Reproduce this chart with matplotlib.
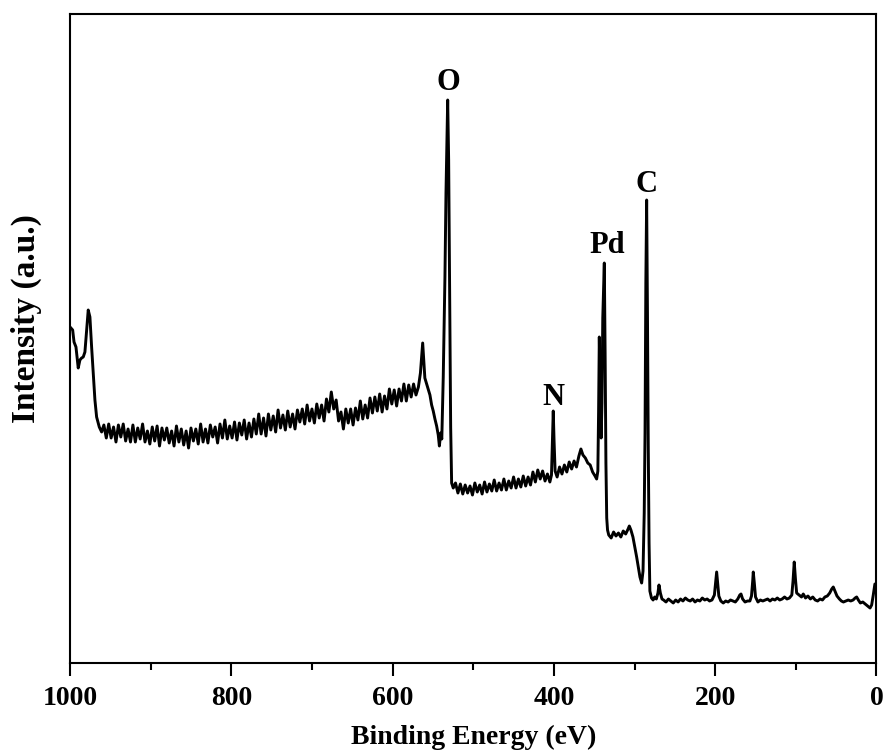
import matplotlib

matplotlib.use("Agg")
import matplotlib.pyplot as plt
import numpy as np
from matplotlib.ticker import MultipleLocator

# XPS survey spectrum (intensity in a.u.)

# high binding-energy edge with the ~978 eV feature
edge_energy = [1000, 996.7, 995, 992.6, 989.8, 987.7, 985.6, 983.6, 981.5,
               979.4, 977.4, 975.3, 973.2, 971.2, 969.1, 967, 963.7, 960.8]
edge_intensity = [336, 333, 321, 316, 295, 303, 305, 306, 311,
                  333, 353, 346, 316, 290, 263, 246, 236, 231]

# noisy background 958 -> 574 eV
bg_energy = [958, 955, 952, 949, 946, 943, 940, 937, 934, 931, 928, 925, 922,
             919, 916, 913, 910, 907, 904, 901, 898, 895, 892, 889, 886, 883,
             880, 877, 874, 871, 868, 865, 862, 859, 856, 853, 850, 847, 844,
             841, 838, 835, 832, 829, 826, 823, 820, 817, 814, 811, 808, 805,
             802, 799, 796, 793, 790, 787, 784, 781, 778, 775, 772, 769, 766,
             763, 760, 757, 754, 751, 748, 745, 742, 739, 736, 733, 730, 727,
             724, 721, 718, 715, 712, 709, 706, 703, 700, 697, 694, 691, 688,
             685, 682, 679, 676, 673, 670, 667, 664, 661, 658, 655, 652, 649,
             646, 643, 640, 637, 634, 631, 628, 625, 622, 619, 616, 613, 610,
             607, 604, 601, 598, 595, 592, 589, 586, 583, 580, 577, 574]
bg_intensity = [238, 225, 239, 225, 236, 221, 238, 226, 239, 222,
                234, 221, 238, 221, 235, 224, 239, 221, 232, 219,
                236, 222, 237, 217, 235, 223, 235, 220, 232, 217,
                237, 221, 234, 218, 232, 215, 235, 222, 234, 219,
                239, 221, 234, 220, 238, 226, 236, 220, 239, 225,
                243, 224, 237, 225, 241, 223, 240, 228, 243, 224,
                240, 226, 244, 229, 249, 229, 245, 227, 249, 233,
                247, 231, 253, 235, 248, 233, 252, 236, 249, 234,
                253, 241, 254, 239, 258, 242, 254, 240, 259, 245,
                258, 242, 264, 251, 271, 254, 263, 242, 251, 234,
                254, 240, 254, 238, 255, 243, 262, 244, 258, 245,
                265, 250, 266, 252, 269, 251, 267, 254, 274, 259,
                273, 257, 274, 262, 279, 262, 278, 266, 279]

# O KLL and O 1s
o_energy = [571, 568, 565.5, 562.7, 560, 557.8, 556, 553.7, 551.6, 549.6,
            547.5, 545.4, 543.4, 542, 540.4, 539, 537.2, 535.1, 533.8, 531.7,
            530.5, 529.2, 528, 526.8, 524.8]
o_intensity = [268, 276, 290, 320, 285, 279, 274, 268, 258, 252,
               244, 237, 228, 217, 230, 224, 286, 386, 470, 563,
               503, 370, 236, 180, 175]

# background after O 1s, N 1s
mid_energy = [522, 519, 516, 513, 510, 507, 504, 501, 498, 495, 492, 489, 486,
              483, 480, 477, 474, 471, 468, 465, 462, 459, 456, 453, 450, 447,
              444, 441, 438, 435, 432, 429, 426, 423, 420, 417, 414, 411, 408,
              405, 403, 401.8, 400.8, 399.8, 398.5, 396, 393, 390, 387, 384,
              381, 378, 375, 372, 369, 366.5, 364, 361, 358, 355, 352, 349, 347]
mid_intensity = [180, 170, 179, 169, 178, 170, 177, 168, 180, 171, 178, 169, 181,
                 171, 179, 172, 183, 172, 180, 173, 184, 173, 182, 175, 186, 175,
                 184, 176, 187, 177, 186, 178, 191, 181, 193, 184, 192, 182, 189,
                 181, 188, 225, 252, 222, 192, 186, 196, 189, 198, 191,
                 201, 194, 202, 196, 207, 214, 208, 205, 200, 198, 191, 187, 184]

# Pd 3d doublet, C 1s
pdc_energy = [345.5, 344.6, 343.7, 342.6, 341.4, 340.4, 339.4, 338.4, 337.5,
              336.5, 335.5, 334.5, 333.5, 332, 329, 326, 323, 320, 317, 314,
              311, 308, 306.5, 304.5, 302, 299.5, 297.4, 295, 293.3, 291.2,
              289.5, 288, 287, 286, 285, 284, 283, 282, 281, 279, 277, 275,
              273, 271, 269.7, 268, 266]
pdc_intensity = [192, 250, 326, 270, 225, 260, 345, 375, 400,
                 310, 200, 145, 133, 128, 125, 131, 127, 130, 126, 132,
                 129, 134, 137, 133, 126, 115, 106, 94, 86, 80,
                 92, 150, 230, 380, 463, 350, 216, 120, 72, 65, 63, 66,
                 64, 70, 78, 70, 64]

# low binding-energy region
low_energy = [264, 261, 258, 255, 252, 249, 246, 243, 240, 237, 234, 231, 228,
              225, 222, 219, 216, 213, 210, 207, 204, 201, 199.5, 198.2, 197,
              195.5, 193, 190, 187, 184, 181, 178, 175, 172, 169.5, 168, 166,
              163, 160, 157, 155, 153.5, 152.8, 151.5, 150, 147, 144, 141, 138,
              135, 132, 129, 126, 123, 120, 117, 114, 111, 108, 105, 103.5, 102,
              100.5, 99, 96, 93, 90.8, 88, 85, 82, 79, 76, 73, 70, 67, 64, 61,
              58, 55.5, 53.6, 51.5, 49, 46, 43.5, 41, 38, 35, 32, 29, 26.5,
              24.6, 22.5, 20, 17, 14, 11, 8, 6, 4, 2, 0.5]
low_intensity = [63, 61, 64, 62, 60, 63, 61, 64, 62, 65, 63, 62, 64,
                 61, 63, 62, 65, 63, 64, 62, 63, 68, 80, 91, 80,
                 67, 62, 60, 62, 61, 63, 62, 61, 64, 68, 69, 64,
                 61, 62, 62, 67, 82, 91, 80, 66, 61, 63, 62, 63,
                 64, 62, 64, 63, 65, 63, 64, 66, 64, 65, 68, 82, 101,
                 84, 70, 68, 66, 69, 65, 67, 64, 66, 63, 62, 64, 63, 66, 67,
                 70, 74, 76, 72, 67, 64, 62, 61, 62, 63, 62, 63, 65,
                 66, 63, 60, 61, 59, 57, 55, 58, 68, 79, 78]

peak_names = ["O", "N", "Pd", "C"]
peak_energy = [531.3, 401.1, 334.2, 284.6]
label_height = [573, 258, 410, 471]


def main() -> None:
    energy = np.concatenate([edge_energy, bg_energy, o_energy, mid_energy,
                             pdc_energy, low_energy])
    intensity = np.concatenate([edge_intensity, bg_intensity, o_intensity,
                                mid_intensity, pdc_intensity, low_intensity])

    plt.rcParams["font.family"] = ["Liberation Serif", "DejaVu Serif"]
    plt.rcParams["font.weight"] = "bold"

    fig = plt.figure(figsize=(8.87, 7.54), dpi=100)
    ax = fig.add_axes([70 / 887, 91 / 754, 806.5 / 887, 649 / 754])
    ax.plot(energy, intensity, color="black", lw=2.1)

    ax.set_xlim(1000, 0)
    ax.set_ylim(0, 649)
    ax.set_yticks([])
    ax.xaxis.set_major_locator(MultipleLocator(200))
    ax.xaxis.set_minor_locator(MultipleLocator(100))
    ax.tick_params(axis="x", which="major", direction="out", length=9.5,
                   width=1.5, labelsize=20, pad=7)
    ax.tick_params(axis="x", which="minor", direction="out", length=5,
                   width=1.5)
    for s in ax.spines.values():
        s.set_linewidth(1.5)

    ax.set_xlabel("Binding Energy (eV)", fontsize=20, fontweight="bold",
                  labelpad=10)
    ax.set_ylabel("Intensity (a.u.)", fontsize=24, fontweight="bold")
    ax.yaxis.set_label_coords(-0.035, 0.53)

    for name, e, h in zip(peak_names, peak_energy, label_height):
        ax.text(e, h, name, ha="center", va="baseline", fontsize=22,
                fontweight="bold")

    fig.savefig("out.png", dpi=100)


if __name__ == "__main__":
    main()
